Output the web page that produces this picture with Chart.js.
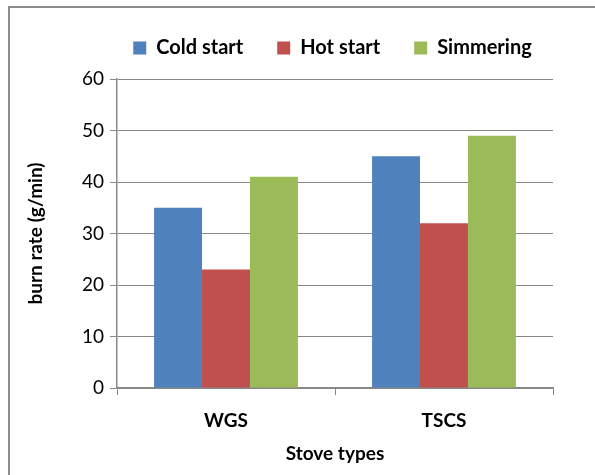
<!DOCTYPE html>
<html>
<head>
<meta charset="utf-8">
<script src="https://cdn.jsdelivr.net/npm/chart.js@4"></script>
<style>
  html, body { margin: 0; padding: 0; background: #fff; }
  #wrap { width: 595px; height: 475px; position: relative; }
</style>
</head>
<body>
<div id="wrap"><canvas id="c" width="595" height="475"></canvas></div>
<script>
const categories = ['WGS', 'TSCS'];
const coldStart = [35, 45];
const hotStart = [23, 32];
const simmering = [41, 49];
const yTicks = [0, 10, 20, 30, 40, 50, 60];

const FONT = 'Lato, "Open Sans", sans-serif';
const GRID = '#888888';

// Outer frame of the chart object (runs off the right and bottom edges)
const framePlugin = {
  id: 'frame',
  beforeDraw(chart) {
    const ctx = chart.ctx;
    ctx.save();
    ctx.fillStyle = '#fff';
    ctx.fillRect(0, 0, chart.width, chart.height);
    ctx.strokeStyle = '#8c8c8c';
    ctx.lineWidth = 2;
    ctx.strokeRect(9, 7, chart.width + 20, chart.height + 20);
    ctx.restore();
  }
};

// Fixed height for the legend band, and centre it over the plot area
const legendBand = {
  id: 'legendBand',
  beforeInit(chart) {
    const fit = chart.legend.fit;
    chart.legend.fit = function () {
      fit.call(this);
      this.height = 75;
    };
  },
  afterLayout(chart) {
    const lg = chart.legend;
    lg.left += 56;
    lg.right += 56;
  }
};

new Chart(document.getElementById('c'), {
  type: 'bar',
  data: {
    labels: categories,
    datasets: [
      { label: 'Cold start', data: coldStart, backgroundColor: '#4F81BD' },
      { label: 'Hot start', data: hotStart, backgroundColor: '#C0504D' },
      { label: 'Simmering', data: simmering, backgroundColor: '#9BBB59' }
    ]
  },
  options: {
    responsive: false,
    animation: false,
    layout: { padding: { left: 0, right: 42, top: 4, bottom: 0 } },
    datasets: { bar: { categoryPercentage: 0.66, barPercentage: 1.0, borderWidth: 0 } },
    plugins: {
      legend: {
        position: 'top',
        labels: {
          boxWidth: 13, boxHeight: 13, padding: 34,
          color: '#000',
          font: { family: FONT, size: 20, weight: 'bold' }
        }
      },
      tooltip: { enabled: false }
    },
    scales: {
      x: {
        grid: { display: true, offset: true, drawOnChartArea: false, drawTicks: true, tickLength: 7, color: GRID, lineWidth: 1 },
        border: { color: GRID, width: 1.5 },
        ticks: { color: '#000', font: { family: FONT, size: 19, weight: 'bold' }, padding: 14 },
        title: { display: true, text: 'Stove types', color: '#000', font: { family: FONT, size: 19, weight: 'bold' }, padding: { top: 10, bottom: 10 } },
        afterFit(s) { s.height = 87; }
      },
      y: {
        min: 0, max: 60,
        afterBuildTicks(s) { s.ticks = yTicks.map(v => ({ value: v })); },
        grid: { color: GRID, lineWidth: 1, tickLength: 7, drawTicks: true },
        border: { color: GRID, width: 1.5 },
        ticks: { color: '#000', font: { family: FONT, size: 19 }, padding: 6 },
        title: { display: true, text: 'burn rate (g/min)', color: '#000', font: { family: FONT, size: 19, weight: 'bold' }, padding: { top: 24, bottom: 0 } },
        afterFit(s) { s.width = 117; }
      }
    }
  },
  plugins: [framePlugin, legendBand]
});
</script>
</body>
</html>
